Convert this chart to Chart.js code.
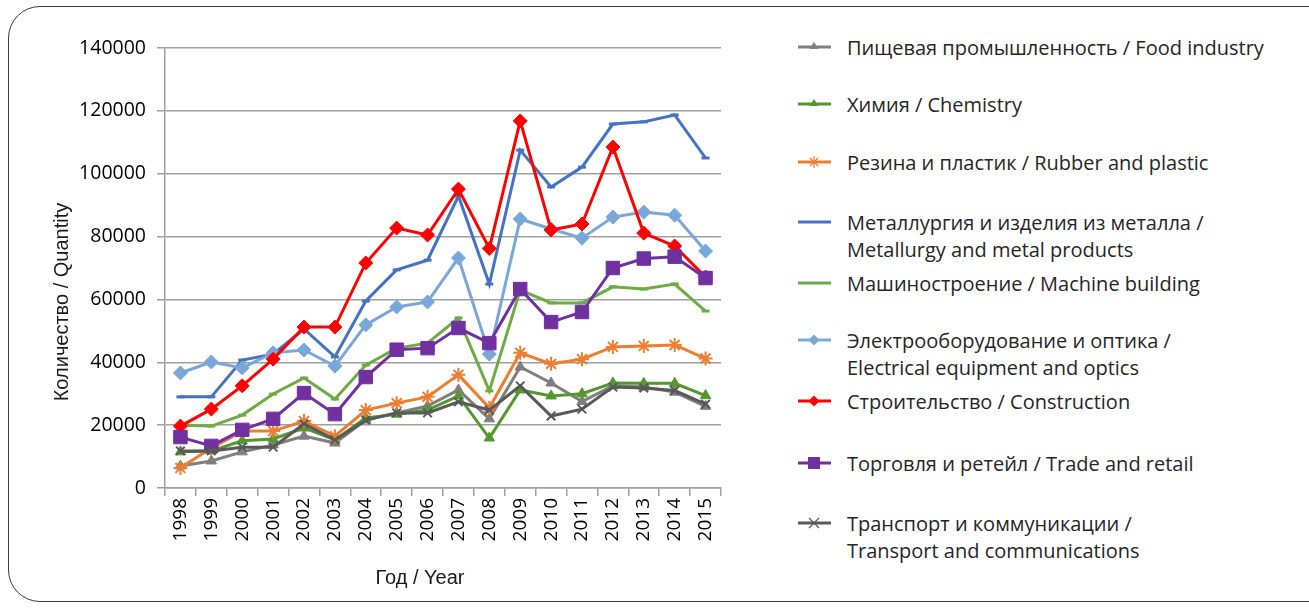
<!DOCTYPE html>
<html>
<head>
<meta charset="utf-8">
<script src="https://cdn.jsdelivr.net/npm/chart.js@4.4.1/dist/chart.umd.min.js"></script>
<style>
    body { margin: 0; background: #fff; width: 1309px; height: 609px; overflow: hidden; position: relative; }
    #frame { position: absolute; left: 8px; top: 6px; width: 1340px; height: 594px; border: 1.5px solid #3c3c3c; border-radius: 32px; }
    #wrap { position: absolute; left: 0; top: 0; width: 760px; height: 609px; }
    #legend { position: absolute; left: 798px; top: 0; width: 510px; height: 609px; font-family: "Open Sans", sans-serif; font-size: 20px; color: #262626; }
    .item { position: absolute; left: 0; line-height: 27px; white-space: nowrap; }
    .item svg { position: absolute; left: 0; top: 6px; }
    .item span { display: block; margin-left: 49px; }
</style>
</head>
<body>
<div id="frame"></div>
<div id="wrap"><canvas id="lineChart"></canvas></div>
<div id="legend"></div>

<script>
// Categories and axis text
const years = ['1998', '1999', '2000', '2001', '2002', '2003', '2004', '2005', '2006',
               '2007', '2008', '2009', '2010', '2011', '2012', '2013', '2014', '2015'];
const yTicks = [0, 20000, 40000, 60000, 80000, 100000, 120000, 140000];
const xTitle = 'Год / Year';
const yTitle = 'Количество / Quantity';

// Series names (legend order)
const names = [
    ['Пищевая промышленность / Food industry'],
    ['Химия / Chemistry'],
    ['Резина и пластик / Rubber and plastic'],
    ['Металлургия и изделия из металла /', 'Metallurgy and metal products'],
    ['Машиностроение / Machine building'],
    ['Электрооборудование и оптика /', 'Electrical equipment and optics'],
    ['Строительство / Construction'],
    ['Торговля и ретейл / Trade and retail'],
    ['Транспорт и коммуникации /', 'Transport and communications']
];

// Series values
const food         = [7000, 8600, 11500, 13700, 16500, 14300, 21600, 23900, 26100, 31200, 22000, 38500, 33400, 27500, 32500, 32100, 30500, 26000];
const chemistry    = [11500, 11800, 15000, 15600, 19100, 15300, 22300, 23500, 24800, 29300, 15900, 31200, 29300, 30000, 33400, 33300, 33300, 29400];
const rubber       = [6400, 12700, 18100, 18100, 21300, 16500, 24800, 27000, 29000, 36000, 25500, 43000, 39500, 41000, 44900, 45200, 45500, 41200];
const metallurgy   = [29000, 29000, 40700, 42600, 50600, 41700, 59500, 69400, 72500, 92900, 64900, 107500, 95800, 102100, 115800, 116500, 118700, 105000];
const machinery    = [20000, 19700, 23200, 29900, 35000, 28300, 39100, 44500, 46100, 54100, 30900, 63000, 58900, 58900, 64000, 63300, 64900, 56300];
const electrical   = [36600, 40100, 38200, 43000, 43900, 38800, 51900, 57600, 59200, 73200, 42600, 85600, 82400, 79500, 86200, 87800, 86800, 75400];
const construction = [19700, 25100, 32500, 41000, 51200, 51200, 71600, 82700, 80500, 95100, 76200, 116800, 82100, 84000, 108500, 81100, 77000, 67100];
const trade        = [16200, 13400, 18500, 22000, 30200, 23500, 35300, 44000, 44500, 50900, 46100, 63300, 52800, 56000, 70000, 73000, 73600, 66800];
const transport    = [11800, 11800, 13000, 13000, 20400, 15300, 21600, 23900, 23900, 27400, 24800, 32500, 22900, 25100, 32100, 31800, 31000, 26700];

const seriesValues = [food, chemistry, rubber, metallurgy, machinery, electrical, construction, trade, transport];

// Styles per series
const colors  = ['#7f7f7f', '#55972f', '#ed7d31', '#4472c4', '#6fab45', '#7aa7da', '#ff0000', '#7030a0', '#595959'];
const markers = ['triangle', 'triangle', 'star', 'line', 'line', 'rectRot', 'rectRot', 'rect', 'crossRot'];
const radii   = [6, 6, 7, 4, 4, 7, 7, 9.5, 6];
const legendCenters = [47, 104, 162, 222, 283, 340, 401, 463, 523];

// Function to build Chart.js datasets
function buildDatasets() {
    return seriesValues.map((values, i) => ({
        label: names[i].join(' '),
        data: values,
        borderColor: colors[i],
        backgroundColor: colors[i],
        pointBackgroundColor: colors[i],
        pointBorderColor: colors[i],
        pointStyle: markers[i],
        pointRadius: radii[i],
        pointBorderWidth: markers[i] === 'star' || markers[i] === 'crossRot' ? 2 : (markers[i] === 'line' ? 3 : 1),
        borderWidth: 3,
        tension: 0,
        order: seriesValues.length - i
    }));
}

// Function to draw the axis titles where the original has them
const axisTitles = {
    id: 'axisTitles',
    afterDraw(chart) {
        const { ctx, chartArea } = chart;
        ctx.save();
        ctx.font = '20px "Liberation Sans"';
        ctx.fillStyle = '#1a1a1a';
        ctx.textAlign = 'center';
        ctx.textBaseline = 'middle';
        ctx.fillText(xTitle, (chartArea.left + chartArea.right) / 2 - 23, 578);
        ctx.translate(62, (chartArea.top + chartArea.bottom) / 2 + 34);
        ctx.rotate(-Math.PI / 2);
        ctx.fillText(yTitle, 0, 0);
        ctx.restore();
    }
};

// Function to render the chart
function renderChart() {
    const ctx = document.getElementById('lineChart').getContext('2d');
    new Chart(ctx, {
        type: 'line',
        data: {
            labels: years,
            datasets: buildDatasets()
        },
        options: {
            responsive: true,
            maintainAspectRatio: false,
            animation: false,
            layout: { padding: { left: 0, right: 39, top: 48, bottom: 0 } },
            plugins: {
                legend: { display: false },
                tooltip: { enabled: false }
            },
            scales: {
                x: {
                    offset: true,
                    grid: { offset: true, drawOnChartArea: false, drawTicks: true, tickLength: 8, color: '#9f9f9f', lineWidth: 1.5 },
                    border: { color: '#9f9f9f', width: 1.5 },
                    ticks: {
                        minRotation: 90, maxRotation: 90, padding: 2, autoSkip: false,
                        color: '#000', font: { family: 'Open Sans', size: 19 }
                    },
                    afterFit: (scale) => { scale.height = 121; }
                },
                y: {
                    min: 0,
                    max: yTicks[yTicks.length - 1],
                    afterBuildTicks: (scale) => { scale.ticks = yTicks.map(v => ({ value: v })); },
                    grid: { color: '#9f9f9f', lineWidth: 1.5, tickLength: 8 },
                    border: { color: '#9f9f9f', width: 1.5 },
                    ticks: {
                        padding: 11, color: '#000',
                        font: { family: 'Open Sans', size: 19.5 },
                        callback: (v) => String(v)
                    },
                    afterFit: (scale) => { scale.width = 165; }
                }
            }
        },
        plugins: [axisTitles]
    });
}

// Function to draw one legend marker as svg
function markerSvg(style, color) {
    let mark = '';
    if (style === 'triangle') mark = `<polygon points="16,2 20.5,9 11.5,9" fill="${color}"/>`;
    if (style === 'star') mark = `<path d="M16,1 L16,13 M10.5,7 L21.5,7 M12,3 L20,11 M20,3 L12,11" stroke="${color}" stroke-width="1.2"/>`;
    if (style === 'rectRot') mark = `<polygon points="16,1.5 21.5,7 16,12.5 10.5,7" fill="${color}"/>`;
    if (style === 'rect') mark = `<rect x="10" y="1" width="12" height="12" fill="${color}"/>`;
    if (style === 'crossRot') mark = `<path d="M11,2 L21,12 M21,2 L11,12" stroke="${color}" stroke-width="1.2"/>`;
    return `<svg width="33" height="14"><line x1="0" y1="7" x2="33" y2="7" stroke="${color}" stroke-width="3"/>${mark}</svg>`;
}

// Function to build the html legend
function renderLegend() {
    const box = document.getElementById('legend');
    names.forEach((lines, i) => {
        const item = document.createElement('div');
        item.className = 'item';
        item.style.top = (legendCenters[i] - 13.5) + 'px';
        item.innerHTML = markerSvg(markers[i], colors[i]) + lines.map(t => `<span>${t}</span>`).join('');
        box.appendChild(item);
    });
}

renderChart();
renderLegend();
</script>
</body>
</html>
